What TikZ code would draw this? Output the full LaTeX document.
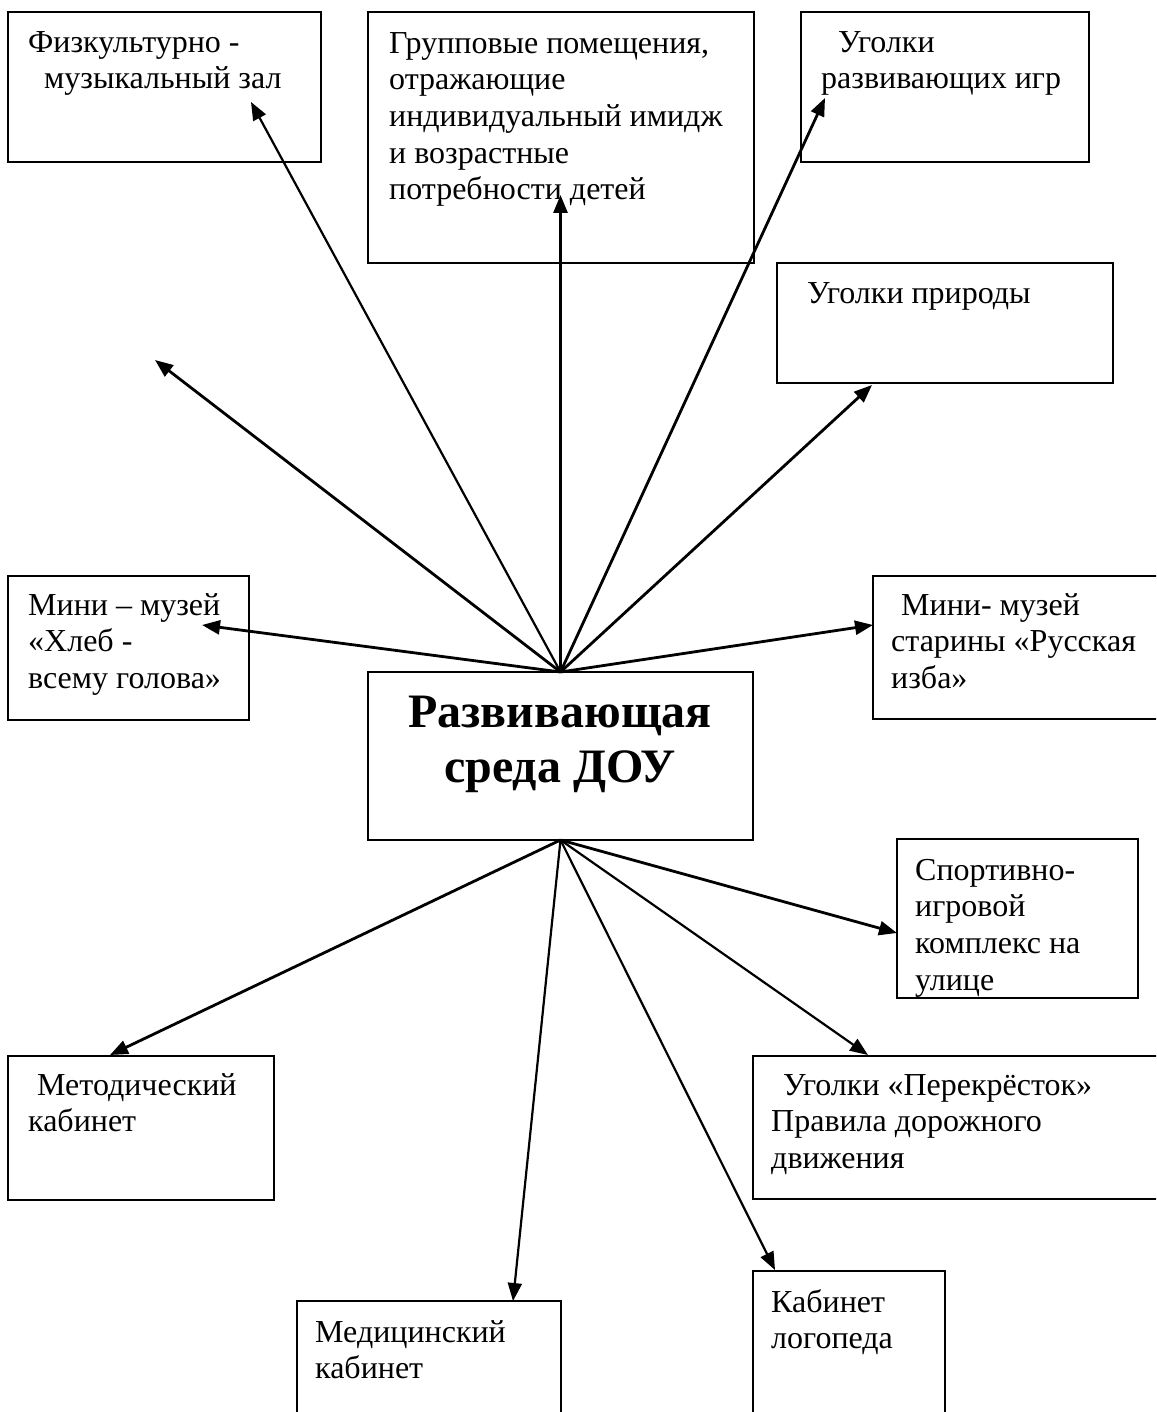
\documentclass[tikz,border=0pt]{standalone}
\usepackage{fontspec}
\setmainfont{Liberation Serif}
\usetikzlibrary{arrows.meta}
\newcommand\bxstrut{\rule{0pt}{30pt}}
\newcommand\cstrut{\rule{0pt}{45pt}}
\begin{document}
\begin{tikzpicture}[x=1pt,y=-1pt,
  box/.style={draw, line width=2.4pt, inner sep=0pt, outer sep=0pt, anchor=north west},
  txt/.style={anchor=north west, inner sep=0pt, align=left, font=\fontsize{32}{36.7}\selectfont},
  arr/.style={line width=2.8pt, -{Triangle[length=18pt,width=14pt]}},
  arrthin/.style={line width=2.2pt, -{Triangle[length=18pt,width=14pt]}}]
\useasboundingbox (0,0) rectangle (1156,1412);
\clip (0,0) rectangle (1156,1412);

% boxes
\node[box, minimum width=313pt, minimum height=150pt] (b1) at (8,12) {};
\node[box, minimum width=386pt, minimum height=251pt] (b2) at (368,12) {};
\node[box, minimum width=288pt, minimum height=150pt] (b3) at (801,12) {};
\node[box, minimum width=336pt, minimum height=120pt] (b4) at (777,263) {};
\node[box, minimum width=241pt, minimum height=144pt] (b5) at (8,576) {};
\node[box, minimum width=300pt, minimum height=143pt] (b6) at (873,576) {};
\node[box, minimum width=385pt, minimum height=168pt] (c) at (368,672) {};
\node[box, minimum width=241pt, minimum height=159pt] (b8) at (897,839) {};
\node[box, minimum width=266pt, minimum height=144pt] (b9) at (8,1056) {};
\node[box, minimum width=420pt, minimum height=143pt] (b10) at (753,1056) {};
\node[box, minimum width=264pt, minimum height=150pt] (b11) at (297,1301) {};
\node[box, minimum width=192pt, minimum height=180pt] (b12) at (753,1271) {};

% texts
\node[txt] (l1) at (28,22) {\bxstrut Физкультурно -\\\hspace*{16pt}музыкальный зал};
\node[txt] (l2) at (389,23) {\bxstrut Групповые помещения,\\отражающие\\индивидуальный имидж\\и возрастные\\потребности детей};
\node[txt] (l3) at (821,22) {\bxstrut\hspace*{17pt}Уголки\\развивающих игр};
\node[txt] (l4) at (807,273) {\bxstrut Уголки природы};
\node[txt] (l5) at (28,585) {\bxstrut Мини – музей\\«Хлеб -\\всему голова»};
\node[txt] (l6) at (891,585) {\bxstrut\hspace*{10pt}Мини- музей\\старины «Русская\\изба»};
\node[anchor=north, inner sep=0pt, align=center, font=\fontsize{48}{55}\selectfont\bfseries] (lc) at (560,682) {\cstrut Развивающая\\среда ДОУ};
\node[txt] (l8) at (915,850) {\bxstrut Спортивно-\\игровой\\комплекс на\\улице};
\node[txt] (l9) at (28,1065) {\bxstrut\hspace*{9pt}Методический\\кабинет};
\node[txt] (l10) at (771,1065) {\bxstrut\hspace*{12pt}Уголки «Перекрёсток»\\Правила дорожного\\движения};
\node[txt] (l11) at (315,1312) {\bxstrut Медицинский\\кабинет};
\node[txt] (l12) at (771,1282) {\bxstrut Кабинет\\логопеда};

% arrow end points
\coordinate (t1) at (251,102);
\coordinate (tf) at (155,360);
\coordinate (t2) at (560.5,195);
\coordinate (t3) at (825,98);
\coordinate (t4) at (872,385);
\coordinate (t5) at (202,625);
\coordinate (t6) at (873,625);
\coordinate (t8) at (897,933);
\coordinate (t10) at (868,1055);
\coordinate (t12) at (775,1270);
\coordinate (t11) at (513,1301);
\coordinate (t9) at (110,1055);

% arrows
\draw[arrthin] (c.north) -- (t1);
\draw[arr] (c.north) -- (tf);
\draw[arr] (c.north) -- (t2);
\draw[arr] (c.north) -- (t3);
\draw[arr] (c.north) -- (t4);
\draw[arr] (c.north) -- (t5);
\draw[arr] (c.north) -- (t6);
\draw[arr] (c.south) -- (t8);
\draw[arrthin] (c.south) -- (t10);
\draw[arrthin] (c.south) -- (t12);
\draw[arrthin] (c.south) -- (t11);
\draw[arr] (c.south) -- (t9);
\end{tikzpicture}
\end{document}
